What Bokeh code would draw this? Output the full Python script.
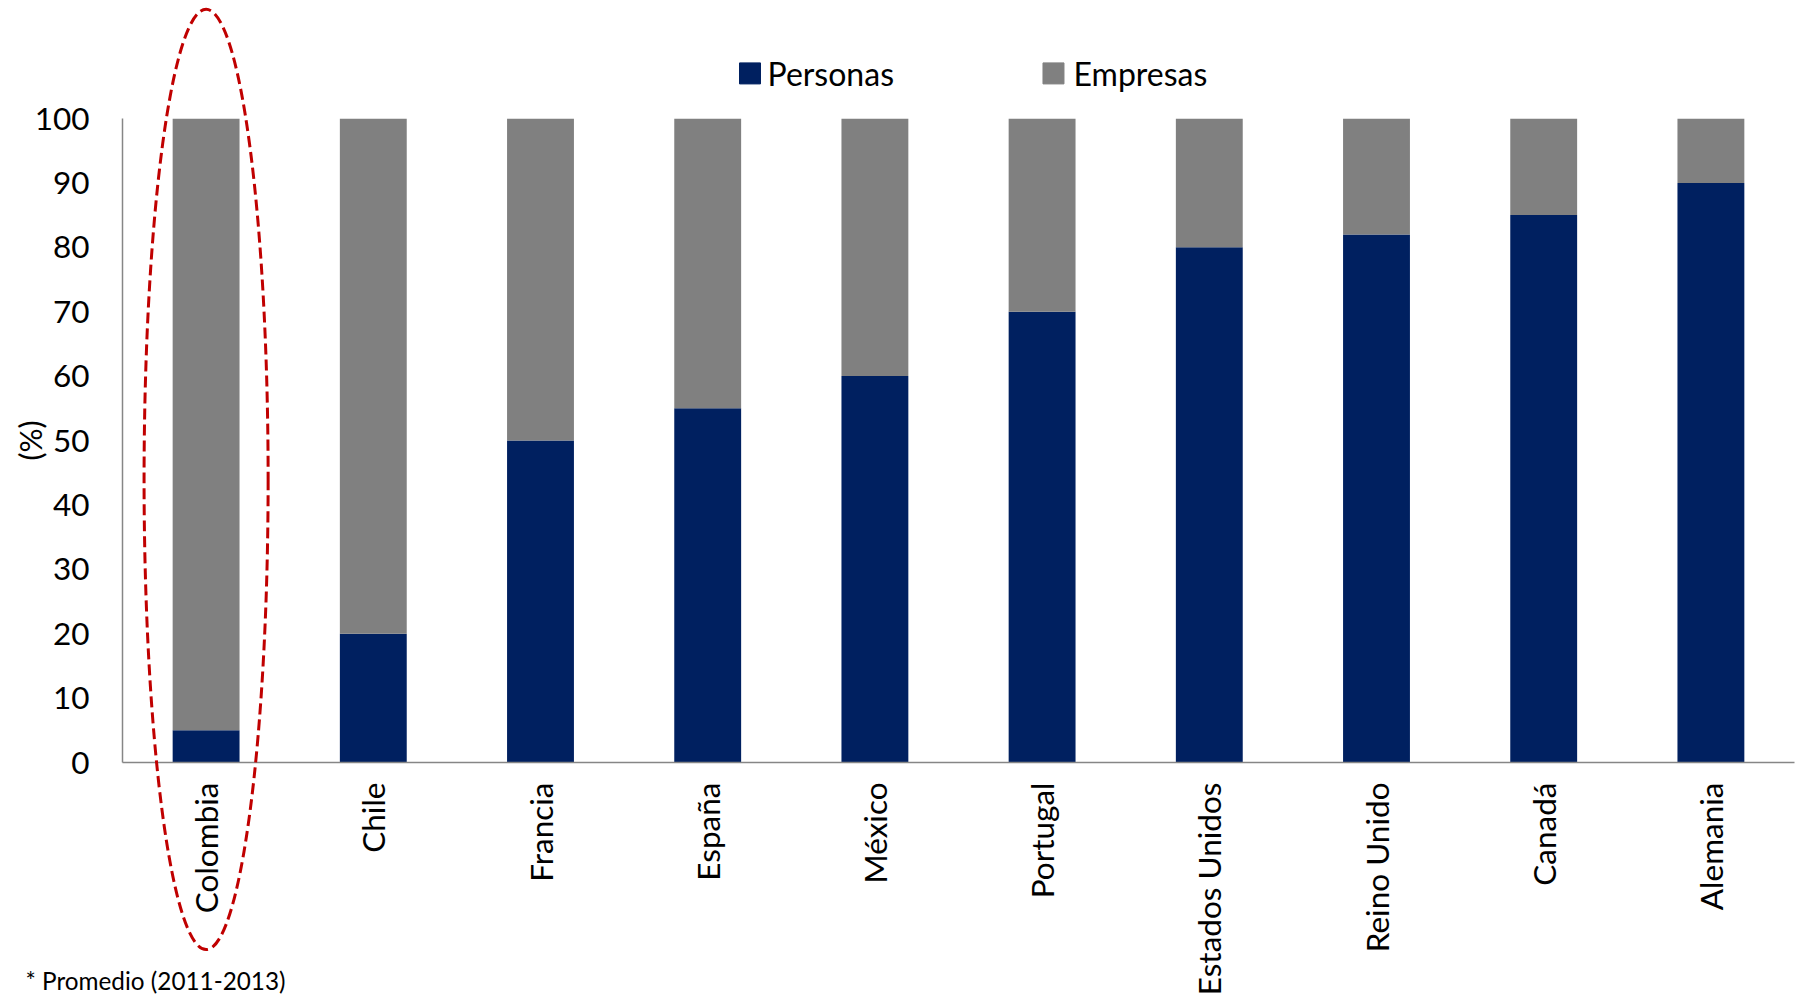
import numpy as np
from bokeh.plotting import figure
from bokeh.models import ColumnDataSource, FactorRange
from bokeh.core.properties import value
from bokeh.embed import file_html
from bokeh.resources import INLINE

countries = ["Colombia", "Chile", "Francia", "España", "México", "Portugal",
             "Estados Unidos", "Reino Unido", "Canadá", "Alemania"]
personas = [5, 20, 50, 55, 60, 70, 80, 82, 85, 90]
empresas = [95, 80, 50, 45, 40, 30, 20, 18, 15, 10]
series = ["Personas", "Empresas"]
colors = ["#002060", "#808080"]
y_ticks = list(range(0, 101, 10))
footnote = "* Promedio (2011-2013)"
y_title = "(%)"

FONT = "Lato"

src = ColumnDataSource(dict(country=countries, Personas=personas, Empresas=empresas))

p = figure(width=1800, height=998, x_range=FactorRange(*countries, range_padding=0),
           y_range=(0, 100), output_backend="svg", toolbar_location=None,
           min_border_left=122, min_border_right=6, min_border_top=118,
           min_border_bottom=236)
p.outline_line_color = None
p.grid.visible = False

r = p.vbar_stack(series, x="country", width=0.4, color=colors, source=src,
                 line_color=None)

# axes
for ax in (p.xaxis[0], p.yaxis[0]):
    ax.axis_line_color = "#868686"
    ax.axis_line_width = 1.5
    ax.major_tick_line_color = None
    ax.minor_tick_line_color = None
    ax.major_label_text_font = FONT
    ax.major_label_text_font_size = "31.5px"
    ax.major_label_text_color = "#000000"

p.yaxis.ticker = y_ticks
p.yaxis.bounds = (0, 100)
p.yaxis.major_label_standoff = 27
p.xaxis.major_label_orientation = np.pi / 2
p.xaxis.major_label_standoff = 14

# guide texts drawn over the frame edges (overlay level is not clipped)
# legend: swatches + labels above the bars
leg = ColumnDataSource(dict(sx=[3.753, 5.568], tx=[3.858, 5.688], y=[107.0, 107.0],
                            label=series, color=colors))
p.rect(x="sx", y="y", width=21, height=21, width_units="screen",
       height_units="screen", color="color", source=leg, level="overlay")
p.text(x="tx", y="y", text="label", source=leg, text_font=value(FONT),
       text_font_size="32px", text_baseline="middle", text_color="#000000",
       level="overlay")

# y-axis title
p.text(x=[-0.556], y=[50.0], text=[y_title], angle=np.pi / 2,
       text_font=value(FONT), text_font_size="30px", text_align="center",
       text_baseline="middle", text_color="#000000", level="overlay")

# footnote
p.text(x=[-0.58], y=[-33.85], text=[footnote], text_font=value(FONT),
       text_font_size="24.3px", text_baseline="middle", text_color="#000000",
       level="overlay")

# highlight ellipse around Colombia
p.ellipse(x=["Colombia"], y=[43.95], width=0.742, height=146,
          fill_alpha=0, line_color="#C00000", line_width=3, line_dash="11 5",
          level="overlay")

open("out.html", "w").write(file_html(p, INLINE))
